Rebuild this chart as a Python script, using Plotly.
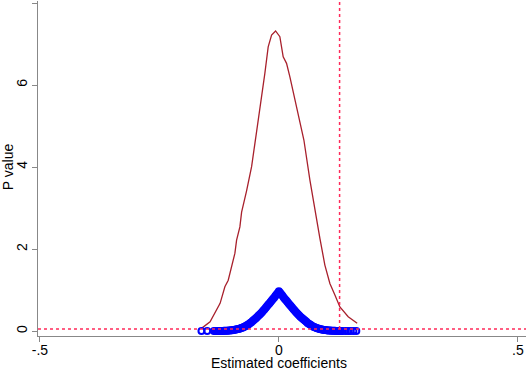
import plotly.graph_objects as go

# Kernel density of estimated coefficients
dens_x = [-0.162, -0.144, -0.123, -0.113, -0.106, -0.099, -0.092, -0.0885, -0.0816, -0.078,
          -0.0711, -0.0676, -0.0571, -0.0467, -0.0362, -0.0293, -0.0224, -0.0153, -0.0069,
          0.002, 0.009, 0.016, 0.023, 0.0335, 0.0439, 0.0523, 0.0649, 0.0753, 0.0858,
          0.0962, 0.1067, 0.1172, 0.1276, 0.145, 0.1638]
dens_y = [0.066, 0.227, 0.676, 1.08, 1.24, 1.57, 1.90, 2.22, 2.54, 2.90,
          3.20, 3.42, 4.01, 4.82, 5.63, 6.29, 6.93, 7.22, 7.32,
          7.18, 6.69, 6.53, 6.20, 5.63, 5.15, 4.66, 3.68, 2.95, 2.26,
          1.61, 1.16, 0.88, 0.59, 0.35, 0.19]

# P values of each estimated coefficient
coef = [-0.162, -0.150, -0.136, -0.130, -0.125, -0.120, -0.115, -0.110, -0.105, -0.100,
        -0.095, -0.090, -0.085, -0.080, -0.075, -0.070, -0.065, -0.060, -0.055, -0.050,
        -0.045, -0.040, -0.035, -0.030, -0.025, -0.020, -0.015, -0.010, -0.005, 0.000,
        0.005, 0.010, 0.015, 0.020, 0.025, 0.030, 0.035, 0.040, 0.045, 0.050,
        0.055, 0.060, 0.065, 0.070, 0.075, 0.080, 0.085, 0.090, 0.095, 0.100,
        0.105, 0.110, 0.115, 0.120, 0.125, 0.130, 0.134, 0.140, 0.145, 0.150,
        0.156, 0.162,
        -0.1325, -0.1275, -0.1225, -0.1175, -0.1125, -0.1075, -0.1025, -0.0975, -0.0925,
        -0.0875, -0.0825, -0.0775, -0.0725, -0.0675, -0.0625, -0.0575, -0.0525, -0.0475,
        -0.0425, -0.0375, -0.0325, -0.0275, -0.0225, -0.0175, -0.0125, -0.0075, -0.0025,
        0.0025, 0.0075, 0.0125, 0.0175, 0.0225, 0.0275, 0.0325, 0.0375, 0.0425,
        0.0475, 0.0525, 0.0575, 0.0625, 0.0675, 0.0725, 0.0775, 0.0825, 0.0875,
        0.0925, 0.0975, 0.1025, 0.1075, 0.1125, 0.1175, 0.1225, 0.1275]
pval = [0.000, 0.000, 0.001, 0.002, 0.003, 0.004, 0.005, 0.008, 0.012, 0.018,
        0.027, 0.038, 0.050, 0.068, 0.090, 0.118, 0.155, 0.195, 0.245, 0.295,
        0.350, 0.405, 0.465, 0.535, 0.605, 0.675, 0.745, 0.815, 0.895, 0.970,
        0.900, 0.820, 0.750, 0.680, 0.610, 0.540, 0.470, 0.410, 0.350, 0.300,
        0.250, 0.200, 0.160, 0.120, 0.092, 0.070, 0.052, 0.040, 0.029, 0.020,
        0.014, 0.010, 0.006, 0.004, 0.003, 0.002, 0.001, 0.001, 0.000, 0.000,
        0.000, 0.000,
        0.001, 0.002, 0.003, 0.004, 0.006, 0.010, 0.015, 0.022, 0.032,
        0.045, 0.058, 0.080, 0.103, 0.135, 0.173, 0.218, 0.268, 0.322,
        0.378, 0.435, 0.500, 0.570, 0.640, 0.710, 0.780, 0.855, 0.930,
        0.935, 0.860, 0.785, 0.715, 0.645, 0.575, 0.505, 0.440, 0.380,
        0.325, 0.275, 0.225, 0.180, 0.140, 0.105, 0.080, 0.060, 0.046,
        0.034, 0.024, 0.017, 0.012, 0.008, 0.005, 0.003, 0.002]

x_ticks = [-0.5, 0, 0.5]
x_tick_labels = ["-.5", "0", ".5"]
y_ticks = [0, 2, 4, 6, 8]
y_tick_labels = ["0", "2", "4", "6", "8"]

true_coef = 0.127
p_threshold = 0.05

fig = go.Figure()
fig.add_trace(go.Scatter(x=dens_x, y=dens_y, mode="lines",
                         line=dict(color="#a8202c", width=1.3),
                         showlegend=False))
fig.add_trace(go.Scatter(x=coef, y=pval, mode="markers",
                         marker=dict(symbol="circle-open", size=6, color="#0000ff",
                                     line=dict(width=2, color="#0000ff")),
                         showlegend=False))

fig.add_shape(type="line", xref="x", yref="y", x0=true_coef, x1=true_coef,
              y0=p_threshold, y1=8.05, line=dict(color="#ff2a5a", width=1.5, dash="3px,3px"))
fig.add_shape(type="line", xref="paper", yref="y", x0=0, x1=1,
              y0=p_threshold, y1=p_threshold,
              line=dict(color="#ff2a5a", width=1.5, dash="3px,3px"))

axis_font = dict(family="Liberation Sans, Arial, sans-serif", size=14, color="#000000")

fig.add_annotation(text="Estimated coefficients", xref="x", yref="paper", x=0, y=-0.082,
                   xanchor="center", yanchor="middle", showarrow=False, font=axis_font)
fig.add_annotation(text="P value", xref="paper", yref="paper", x=-0.0615, y=0.507,
                   xanchor="center", yanchor="middle", textangle=-90, showarrow=False,
                   font=axis_font)

fig.update_layout(
    width=526, height=369,
    margin=dict(l=38, r=0, t=1, b=33),
    paper_bgcolor="white", plot_bgcolor="white",
    font=axis_font,
    xaxis=dict(range=[-0.504, 0.517], tickvals=x_ticks, ticktext=x_tick_labels,
               automargin=False, ticklabelstandoff=-4,
               showgrid=False, zeroline=False, showline=True, linecolor="#888888",
               linewidth=1.2, ticks="outside", ticklen=5, tickcolor="#888888"),
    yaxis=dict(range=[-0.12, 8.05], tickvals=y_ticks, ticktext=y_tick_labels,
               tickangle=-90, automargin=False, ticklabelstandoff=-1,
               showgrid=False, zeroline=False, showline=True, linecolor="#888888",
               linewidth=1.2, ticks="outside", ticklen=5, tickcolor="#888888"),
)

fig.write_html("out.html", config={"displayModeBar": False},
               post_script="document.body.style.margin='0px';")
